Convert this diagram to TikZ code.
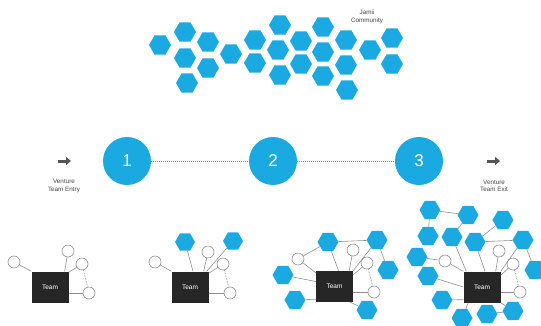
\documentclass[tikz,border=0pt]{standalone}
\usepackage{fontspec}
\setmainfont{Liberation Sans}
\usetikzlibrary{shapes.geometric,arrows.meta}
\definecolor{hexblue}{HTML}{1BA9E1}
\definecolor{boxdark}{HTML}{262626}
\definecolor{linegray}{HTML}{8F8F8F}
\definecolor{arrowgray}{HTML}{555555}
\definecolor{textgray}{HTML}{444444}
\definecolor{dotblue}{HTML}{2AAEE4}
\tikzset{
  hexa/.style={regular polygon, regular polygon sides=6, minimum size=22pt, inner sep=0pt, fill=hexblue, draw=none},
  ring/.style={circle, draw=linegray, fill=white, minimum size=12pt, inner sep=0pt, line width=0.6pt},
  teambox/.style={rectangle, fill=boxdark, minimum width=37pt, minimum height=31pt, inner sep=0pt, text=white, font=\fontsize{6.5}{7}\selectfont},
  bigc/.style={circle, fill=hexblue, minimum size=48pt, inner sep=0pt, text=white, font=\fontsize{17}{18}\selectfont},
  link/.style={draw=linegray, line width=0.6pt},
  dotlink/.style={draw=linegray, line width=0.7pt, dash pattern=on 0.7pt off 0.9pt},
  bluedots/.style={draw=dotblue, line width=1pt, dash pattern=on 1pt off 1pt},
  lbl/.style={text=textgray, font=\fontsize{6.3}{7.5}\selectfont, inner sep=0pt, align=center},
  blockarrow/.style={draw=arrowgray, line width=3pt, -{Triangle[length=5pt,width=8pt]}}
}
\begin{document}
\begin{tikzpicture}[x=1pt,y=-1pt]
\useasboundingbox (0,0) rectangle (541,325);
% ---------- community hexagons ----------
\foreach \n/\px/\py in {1/160/45,2/185/32,3/208/42,4/185/58,5/208/68,6/187/83,7/231/54,8/255/40,9/255/63,10/280/25,11/278/50,12/280/75,13/301/41,14/301/64,15/323/27,16/323/52,16b/323/76,17/346/40,18/346/65,19/347/90,20/370/50,21/392/38,22/392/64}
  \node[hexa] (t\n) at (\px,\py) {};
\node[lbl] (jamii) at (367,17) {Jamii\\Community};
% ---------- timeline ----------
\node[bigc] (s1) at (127,161) {1};
\node[bigc] (s2) at (273,161) {2};
\node[bigc] (s3) at (419,161) {3};
\draw[bluedots] (s1) -- (s2);
\draw[bluedots] (s2) -- (s3);
\coordinate (ea) at (58,161); \coordinate (eb) at (71,161);
\draw[blockarrow] (ea) -- (eb);
\node[lbl] (entry) at (64,186) {Venture\\Team Entry};
\coordinate (xa) at (487,161); \coordinate (xb) at (500,161);
\draw[blockarrow] (xa) -- (xb);
\node[lbl] (exit) at (494,186) {Venture\\Team Exit};
% ---------- team 1 ----------
\node[teambox] (b1) at (50,287) {Team};
\node[ring] (c11) at (14,262) {};
\node[ring] (c12) at (68,251) {};
\node[ring] (c13) at (82,264) {};
\node[ring] (c14) at (89,293) {};
\draw[link] (c11) -- (b1.north west);
\draw[link] (c12) -- ([xshift=-4pt]b1.north east);
\draw[link] (c13) -- ([yshift=-1pt]b1.north east);
\draw[dotlink] (c13) -- (c14);
\draw[link] (c14) -- (b1.east |- c14);
% ---------- team 2 ----------
\node[teambox] (b2) at (190,287) {Team};
\node[ring] (c21) at (155,262) {};
\node[hexa, minimum size=20pt] (h21) at (185,242) {};
\node[ring] (c22) at (208,252) {};
\node[hexa, minimum size=20pt] (h22) at (233,241) {};
\node[ring] (c23) at (223,264) {};
\node[ring] (c24) at (230,293) {};
\draw[link] (c21) -- (b2.north west);
\draw[link] (h21) -- ([xshift=3pt]b2.north);
\draw[link] (c22) -- ([xshift=-5pt]b2.north east);
\draw[link] (h22) -- ([xshift=-2pt]b2.north east);
\draw[link] (c23) -- ([yshift=-2pt]b2.north east);
\draw[dotlink] (c23) -- (c24);
\draw[link] (c24) -- (b2.east |- c24);
% ---------- team 3 ----------
\node[teambox] (b3) at (334.5,286.5) {Team};
\node[hexa, minimum size=21pt] (h31) at (328,242) {};
\node[hexa, minimum size=21pt] (h32) at (377,240) {};
\node[ring] (c31) at (353,250) {};
\node[ring] (c32) at (298,259) {};
\node[ring] (c33) at (367,263) {};
\node[hexa, minimum size=21pt] (h33) at (388,270) {};
\node[hexa, minimum size=21pt] (h34) at (283,275) {};
\node[ring] (c34) at (374,292) {};
\node[hexa, minimum size=21pt] (h35) at (295,300) {};
\node[hexa, minimum size=21pt] (h36) at (367,310) {};
\draw[link] (h31) -- (h32);
\draw[link] (h31) -- ([xshift=4pt]b3.north);
\draw[link] (c31) -- ([xshift=-4pt]b3.north east);
\draw[link] (h32) -- (b3.north east);
\draw[link] (h32) -- (h33);
\draw[link] (c33) -- ([yshift=-4pt]b3.north east);
\draw[dotlink] (c33) -- (c34);
\draw[link] (c34) -- (b3.east |- c34);
\draw[link] (c32) -- ([yshift=-2pt]b3.north west);
\draw[link] (c32) -- (h31);
\draw[link] (h34) -- ([yshift=5pt]b3.west);
\draw[link] (h35) -- ([yshift=3pt]b3.south west);
\draw[link] (h36) -- ([xshift=-3pt]b3.south east);
% ---------- team 4 ----------
\node[teambox] (b4) at (482,287) {Team};
\foreach \n/\px/\py in {1/430/210,2/468/215,3/503/220,4/428/236,5/452/237,6/475/242,7/523/240,8/417/257,9/535/270,10/428/276,11/442/300,12/462/318,13/487/314,14/513/311}
  \node[hexa, minimum size=21pt] (h4\n) at (\px,\py) {};
\node[ring] (c41) at (499,251) {};
\node[ring] (c42) at (445,261) {};
\node[ring] (c43) at (513,264) {};
\node[ring] (c44) at (520,292) {};
\draw[link] (h41) -- (h42);
\draw[link] (h41) -- (h44);
\draw[link] (h42) -- (h45);
\draw[link] (h43) -- (h46);
\draw[link] (h46) -- (h47);
\draw[link] (h47) -- (h49);
\draw[link] (h45) -- ([xshift=3pt]b4.north west);
\draw[link] (h46) -- ([xshift=3pt]b4.north);
\draw[link] (c41) -- ([xshift=-5pt]b4.north east);
\draw[link] (h47) -- (b4.north east);
\draw[link] (c43) -- ([yshift=-4pt]b4.north east);
\draw[dotlink] (c43) -- (c44);
\draw[link] (c44) -- (b4.east |- c44);
\draw[link] (h48) -- (c42);
\draw[link] (c42) -- (b4.north west);
\draw[link] (h410) -- (b4.west);
\draw[link] (h411) -- ([yshift=3pt]b4.south west);
\draw[link] (h412) -- ([xshift=5pt]b4.south west);
\draw[link] (h413) -- (h414);
\draw[link] (h414) -- (b4.south east);
\end{tikzpicture}
\end{document}
